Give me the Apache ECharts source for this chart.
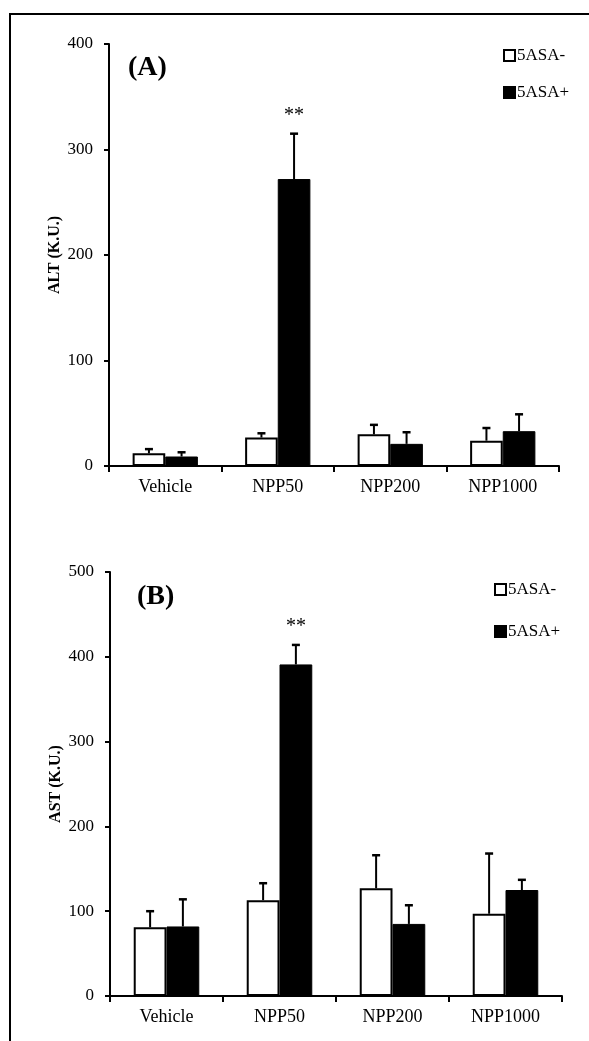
<!DOCTYPE html>
<html>
<head>
<meta charset="utf-8">
<script src="https://cdn.jsdelivr.net/npm/echarts@6/dist/echarts.min.js"></script>
<style>
  html, body { margin: 0; padding: 0; background: #fff; }
  #main { width: 589px; height: 1041px; }
</style>
</head>
<body>
<div id="main"></div>
<script>
// groups on the x axis
const groups = ['Vehicle', 'NPP50', 'NPP200', 'NPP1000']

// (A) ALT
const altMinus = [12, 27, 30, 24]
const altMinusErr = [4, 4, 9, 12]
const altPlus = [9, 272, 21, 33]
const altPlusErr = [4, 43, 11, 16]
const altSig = ['', '**', '', '']

// (B) AST
const astMinus = [81, 113, 127, 97]
const astMinusErr = [19, 20, 39, 71]
const astPlus = [82, 391, 85, 125]
const astPlusErr = [32, 23, 22, 12]
const astSig = ['', '**', '', '']

const font = '"Liberation Serif", "Times New Roman", serif'
const chart = echarts.init(document.getElementById('main'))

// upward-only error bar with a small cap, placed over the bar of series "side" (0 = left, 1 = right)
function errBar(values, errs, sig, side, sigGap) {
  return function (params, api) {
    const i = api.value(0)
    const v = values[i]
    const base = api.coord([i, v])
    const top = api.coord([i, v + errs[i]])
    const band = api.size([1, 0])[0]
    const barW = band * 0.29
    const x = base[0] + (side === 0 ? -barW / 2 : barW / 2)
    const kids = [
      { type: 'line', shape: { x1: x, y1: base[1], x2: x, y2: top[1] }, style: { stroke: '#000', lineWidth: 2 } },
      { type: 'line', shape: { x1: x - 4, y1: top[1], x2: x + 4, y2: top[1] }, style: { stroke: '#000', lineWidth: 2.5 } }
    ]
    if (sig && sig[i]) {
      kids.push({
        type: 'text',
        style: { text: sig[i], x: x, y: top[1] - sigGap, align: 'center', verticalAlign: 'middle', font: '20px ' + font, fill: '#000' }
      })
    }
    return { type: 'group', children: kids }
  }
}

function xAx(idx) {
  return {
    type: 'category', gridIndex: idx, data: groups,
    axisLine: { lineStyle: { color: '#000', width: 2 } },
    axisTick: { show: true, length: 6, lineStyle: { color: '#000', width: 2 } },
    axisLabel: { color: '#000', fontFamily: font, fontSize: 18, margin: 12 }
  }
}
function yAx(idx, name, max) {
  return {
    type: 'value', gridIndex: idx, min: 0, max: max, interval: 100,
    name: name, nameLocation: 'middle', nameGap: 46, nameMoveOverlap: false,
    nameTextStyle: { color: '#000', fontFamily: font, fontSize: 16, fontWeight: 'bold' },
    splitLine: { show: false },
    axisLine: { show: true, lineStyle: { color: '#000', width: 2 } },
    axisTick: { show: true, length: 5, lineStyle: { color: '#000', width: 2 } },
    axisLabel: { color: '#000', fontFamily: font, fontSize: 17, margin: 16 }
  }
}
function bars(idx, name, data, white) {
  return {
    name: name, type: 'bar', xAxisIndex: idx, yAxisIndex: idx, data: data,
    barGap: '0%', barCategoryGap: '42%',
    itemStyle: white ? { color: '#fff', borderColor: '#000', borderWidth: 2 } : { color: '#000', borderColor: '#000', borderWidth: 1 },
    emphasis: { disabled: true },
    silent: true
  }
}
function errs(idx, values, errsArr, sig, side, gap) {
  return {
    type: 'custom', xAxisIndex: idx, yAxisIndex: idx, silent: true, z: 3,
    data: values.map((v, i) => [i, v]),
    renderItem: errBar(values, errsArr, sig, side, gap)
  }
}
function legendAt(top, left, gap) {
  return {
    top: top, left: left, orient: 'vertical', itemGap: gap, padding: 0,
    itemWidth: 11, itemHeight: 11, icon: 'rect',
    textStyle: { color: '#000', fontFamily: font, fontSize: 17, padding: [0, 0, 0, -3] },
    data: [
      { name: '5ASA-', itemStyle: { color: '#fff', borderColor: '#000', borderWidth: 2 } },
      { name: '5ASA+', itemStyle: { color: '#000' } }
    ]
  }
}

chart.setOption({
  animation: false,
  backgroundColor: '#fff',
  graphic: [
    { type: 'rect', shape: { x: 10, y: 14, width: 700, height: 1100 }, style: { fill: 'none', stroke: '#000', lineWidth: 2 } },
    { type: 'text', left: 128, top: 54, style: { text: '(A)', font: 'bold 28px ' + font, fill: '#000' } },
    { type: 'text', left: 137, top: 583, style: { text: '(B)', font: 'bold 28px ' + font, fill: '#000' } }
  ],
  legend: [legendAt(47, 503, 20), legendAt(581, 494, 25)],
  grid: [
    { left: 109, top: 44, width: 450, height: 422 },
    { left: 110, top: 572, width: 452, height: 424 }
  ],
  xAxis: [xAx(0), xAx(1)],
  yAxis: [yAx(0, 'ALT (K.U.)', 400), yAx(1, 'AST (K.U.)', 500)],
  series: [
    bars(0, '5ASA-', altMinus, true),
    bars(0, '5ASA+', altPlus, false),
    errs(0, altMinus, altMinusErr, null, 0, 0),
    errs(0, altPlus, altPlusErr, altSig, 1, 18),
    bars(1, '5ASA-', astMinus, true),
    bars(1, '5ASA+', astPlus, false),
    errs(1, astMinus, astMinusErr, null, 0, 0),
    errs(1, astPlus, astPlusErr, astSig, 1, 18)
  ]
})
</script>
</body>
</html>
